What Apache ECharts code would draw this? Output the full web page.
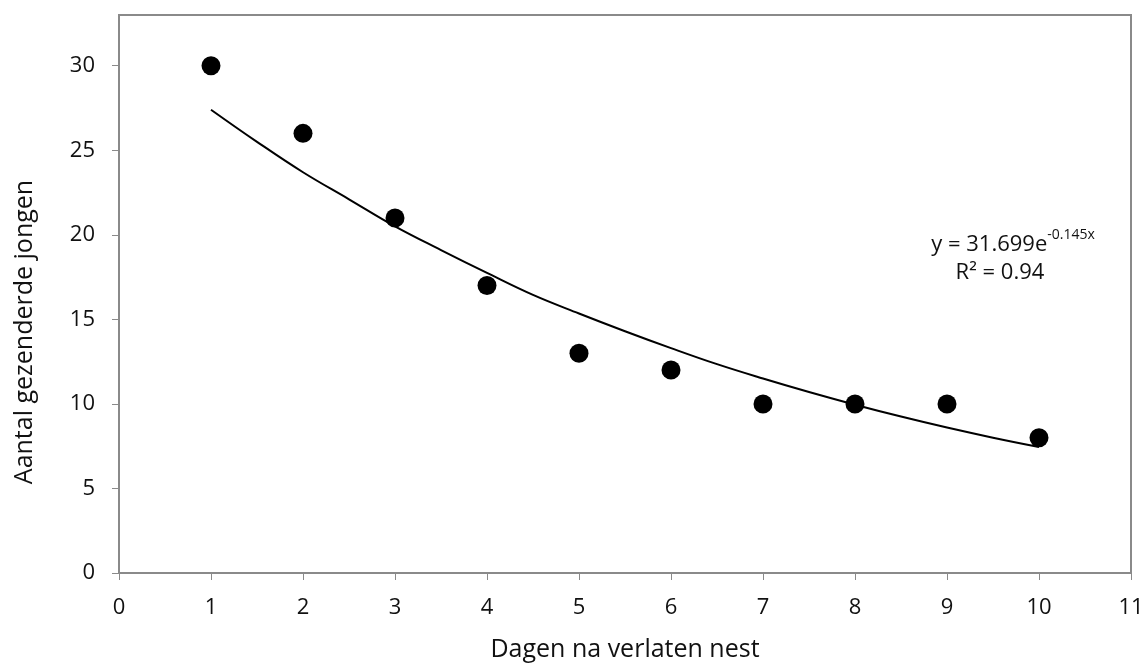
<!DOCTYPE html>
<html>
<head>
<meta charset="utf-8">
<script src="https://cdn.jsdelivr.net/npm/echarts@6/dist/echarts.min.js"></script>
<style>
  html, body { margin: 0; padding: 0; background: #fff; }
  #main { width: 1148px; height: 663px; }
</style>
</head>
<body>
<div id="main"></div>
<script>
var days = [1, 2, 3, 4, 5, 6, 7, 8, 9, 10];
var young = [30, 26, 21, 17, 13, 12, 10, 10, 10, 8];
// points
var trendX = [1, 1.5, 2, 2.5, 3, 3.5, 4, 4.5, 5, 5.5, 6, 6.5, 7, 7.5, 8, 8.5, 9, 9.5, 10];
var trendY = [27.4, 25.5, 23.7, 22.1, 20.5, 19.1, 17.75, 16.45, 15.35, 14.3, 13.3, 12.35, 11.5, 10.7, 9.95, 9.25, 8.6, 8.0, 7.45];
var yTicks = [0, 5, 10, 15, 20, 25, 30];

var font = '"Open Sans", "Noto Sans", sans-serif';
var axisGrey = '#8a8a8a';
var textColor = '#111';

var chart = echarts.init(document.getElementById('main'));

var option = {
  backgroundColor: '#ffffff',
  animation: false,
  grid: {
    left: 119, right: 17, top: 15, bottom: 90,
    show: true, borderColor: axisGrey, borderWidth: 2
  },
  xAxis: {
    type: 'value',
    min: 0, max: 11, interval: 1,
    axisLine: { show: true, onZero: false, lineStyle: { color: axisGrey, width: 2 } },
    axisTick: { show: true, length: 7, lineStyle: { color: axisGrey, width: 1 } },
    axisLabel: { margin: 24, color: textColor, fontSize: 22, fontFamily: font },
    splitLine: { show: false }
  },
  yAxis: {
    type: 'value',
    min: 0, max: 33, interval: 5,
    axisLine: { show: true, onZero: false, lineStyle: { color: axisGrey, width: 2 } },
    axisTick: { show: true, length: 7, customValues: yTicks, lineStyle: { color: axisGrey, width: 1 } },
    axisLabel: { margin: 24, color: textColor, fontSize: 22, fontFamily: font, customValues: yTicks },
    splitLine: { show: false }
  },
  graphic: [
    {
      type: 'text', x: 25, y: 332, rotation: Math.PI / 2,
      style: { text: 'Aantal gezenderde jongen', fill: textColor, font: '25px ' + font, align: 'center', verticalAlign: 'middle' }
    },
    {
      type: 'text', x: 625, y: 650,
      style: { text: 'Dagen na verlaten nest', fill: textColor, font: '25px ' + font, align: 'center', verticalAlign: 'middle' }
    },
    {
      type: 'text', x: 1013, y: 242,
      style: {
        text: '{m|y = 31.699e}{s|-0.145x}',
        align: 'center', verticalAlign: 'middle',
        rich: {
          m: { fontSize: 22, fontFamily: font, fill: textColor, lineHeight: 28, verticalAlign: 'bottom' },
          s: { fontSize: 14, fontFamily: font, fill: textColor, lineHeight: 15, verticalAlign: 'top' }
        }
      }
    },
    {
      type: 'text', x: 1000, y: 273,
      style: { text: 'R² = 0.94', fill: textColor, font: '22px ' + font, align: 'center', verticalAlign: 'middle' }
    }
  ],
  series: [
    {
      type: 'line',
      data: trendX.map(function (x, i) { return [x, trendY[i]]; }),
      smooth: 0.4,
      showSymbol: false,
      lineStyle: { color: '#000', width: 2 },
      z: 2
    },
    {
      type: 'scatter',
      data: days.map(function (d, i) { return [d, young[i]]; }),
      symbol: 'circle',
      symbolSize: 19,
      itemStyle: { color: '#000', opacity: 1 },
      z: 3
    }
  ]
};

chart.setOption(option);
</script>
</body>
</html>
